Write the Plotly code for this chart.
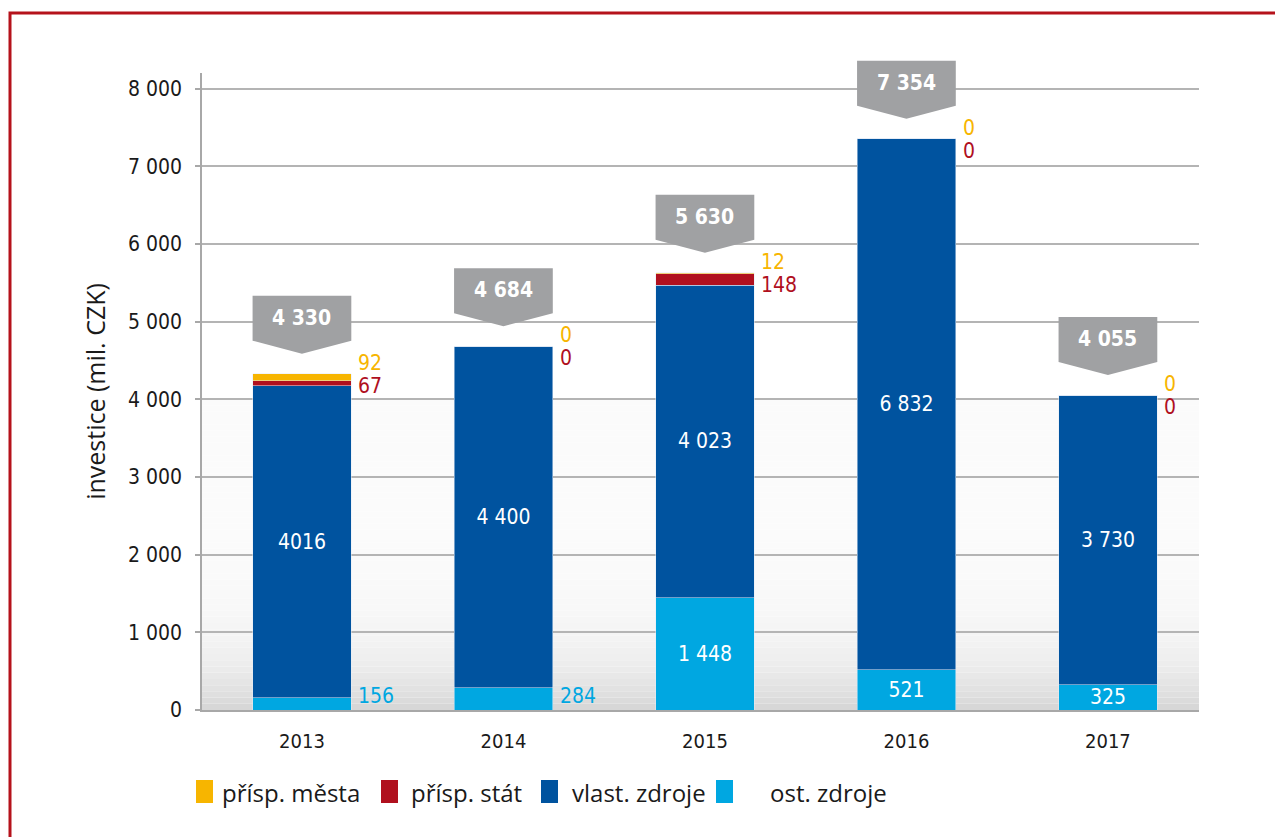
import plotly.graph_objects as go

years = ["2013", "2014", "2015", "2016", "2017"]
ost_zdroje = [156, 284, 1448, 521, 325]
vlast_zdroje = [4016, 4400, 4023, 6832, 3730]
prisp_stat = [67, 0, 148, 0, 0]
prisp_mesta = [92, 0, 12, 0, 0]
totals = [4330, 4684, 5630, 7354, 4055]
total_labels = ["4 330", "4 684", "5 630", "7 354", "4 055"]
vlast_labels = ["4016", "4 400", "4 023", "6 832", "3 730"]
ost_labels = ["156", "284", "1 448", "521", "325"]
ost_outside = [True, True, False, False, False]
y_ticks = [0, 1000, 2000, 3000, 4000, 5000, 6000, 7000, 8000]
series_names = ["přísp. města", "přísp. stát", "vlast. zdroje", "ost. zdroje"]

C_MESTA = "#F7B500"
C_STAT = "#B0101E"
C_VLAST = "#00539F"
C_OST = "#00A7E1"
C_GRAY = "#A0A1A3"

OFF = 8  # page body margin
PL, PR, PT, PB = 202, 1199, 73, 710  # plot area in page pixels
W, H = 1283 - OFF, 837 - OFF
ML, MT = PL - OFF, PT - OFF
MR = W - (PR - OFF)
MB = H - (PB - OFF)
PH = PB - PT
PW = PR - PL
YMAX = 8200
U = YMAX / PH  # data units per pixel

NARROW = "Liberation Sans Narrow, DejaVu Sans Condensed, Roboto, sans-serif"
REG = "Open Sans, Noto Sans, sans-serif"

x = list(range(len(years)))
BW = 0.49

fig = go.Figure()
fig.add_trace(go.Bar(
    x=x, y=ost_zdroje, name=series_names[3], marker_color=C_OST, width=BW,
    text=[("" if o else t) for t, o in zip(ost_labels, ost_outside)],
    textposition="inside", insidetextanchor="middle", textangle=0,
    constraintext="none",
    textfont=dict(color="white", size=21, family=NARROW)))
fig.add_trace(go.Bar(
    x=x, y=vlast_zdroje, name=series_names[2], marker_color=C_VLAST, width=BW,
    text=vlast_labels, textposition="inside", insidetextanchor="middle",
    textangle=0, constraintext="none",
    textfont=dict(color="white", size=21, family=NARROW)))
fig.add_trace(go.Bar(x=x, y=prisp_stat, name=series_names[1],
                     marker_color=C_STAT, width=BW))
fig.add_trace(go.Bar(x=x, y=prisp_mesta, name=series_names[0],
                     marker_color=C_MESTA, width=BW))

shapes = []
# background gradient in lower part
N = 50
for k in range(N):
    v0 = 4000 * k / N
    v1 = 4000 * (k + 1) / N
    t = 1 - (v0 + v1) / 2 / 4000
    c = int(round(251 - 38 * t ** 6))
    shapes.append(dict(type="rect", xref="paper", yref="y", x0=0, x1=1,
                       y0=v0, y1=v1, fillcolor=f"rgb({c},{c},{c})",
                       line_width=0, layer="below"))

annotations = []
for i in x:
    top = totals[i]
    x0, x1 = i - BW / 2, i + BW / 2
    # paper-y coordinates so the callout is not clipped at the plot top
    yp = (top + 20 * U) / YMAX
    ys = (top + 33 * U) / YMAX
    yt = (top + 78 * U) / YMAX
    path = (f"M {x0},{yt} L {x1},{yt} L {x1},{ys} L {i},{yp} "
            f"L {x0},{ys} Z")
    shapes.append(dict(type="path", path=path, xref="x", yref="paper",
                       fillcolor=C_GRAY, line_width=0, layer="above"))
    annotations.append(dict(x=i, y=top, yshift=56, yref="y", xref="x",
                            text=f"<b>{total_labels[i]}</b>", showarrow=False,
                            font=dict(color="white", size=21, family=NARROW)))
    annotations.append(dict(x=x1, y=top, yshift=11, xshift=5, xanchor="left",
                            text=str(prisp_mesta[i]), showarrow=False,
                            font=dict(color=C_MESTA, size=21, family=NARROW)))
    annotations.append(dict(x=x1, y=top, yshift=-12, xshift=5, xanchor="left",
                            text=str(prisp_stat[i]), showarrow=False,
                            font=dict(color=C_STAT, size=21, family=NARROW)))
    if ost_outside[i]:
        annotations.append(dict(x=x1, y=0, yshift=14, xshift=5, xanchor="left",
                                text=ost_labels[i], showarrow=False,
                                font=dict(color=C_OST, size=21, family=NARROW)))


def px_x(p):
    return (p - PL) / PW


def px_y(p):
    return (PB - p) / PH


# red frame
shapes.append(dict(type="rect", xref="paper", yref="paper",
                   x0=px_x(10), x1=px_x(1320), y0=px_y(880), y1=px_y(13),
                   line=dict(color="#B5121B", width=3), fillcolor="rgba(0,0,0,0)"))

# manual legend
leg = [(196, C_MESTA, series_names[0], 220),
       (381, C_STAT, series_names[1], 409),
       (541, C_VLAST, series_names[2], 570),
       (716, C_OST, series_names[3], 768)]
for sx, col, name, tx in leg:
    shapes.append(dict(type="rect", xref="paper", yref="paper",
                       x0=px_x(sx), x1=px_x(sx + 17), y0=px_y(803), y1=px_y(780),
                       fillcolor=col, line_width=0))
    annotations.append(dict(xref="paper", yref="paper", x=px_x(tx), y=px_y(792),
                            xanchor="left", yanchor="middle", text=name,
                            showarrow=False,
                            font=dict(color="#1a1a1a", size=24, family=REG)))

fig.update_layout(
    width=W, height=H,
    margin=dict(l=ML, r=MR, t=MT, b=MB),
    barmode="stack", showlegend=False,
    plot_bgcolor="white", paper_bgcolor="white",
    separators=", ",
    shapes=shapes, annotations=annotations,
    uniformtext=dict(minsize=21, mode="show"),
    font=dict(family=NARROW, color="#1a1a1a"),
)
fig.update_xaxes(range=[-0.496, 4.452], tickvals=x, ticktext=years,
                 showgrid=False, showline=True, linecolor="#A8A8A8", linewidth=1.5,
                 ticks="", tickfont=dict(size=20, family=NARROW, color="#1a1a1a"),
                 ticklabelstandoff=12, zeroline=False)
fig.update_yaxes(range=[0, YMAX], tickvals=y_ticks, tickformat=",d",
                 showgrid=True, gridcolor="#B4B4B4", gridwidth=1.5,
                 showline=True, linecolor="#A8A8A8", linewidth=1.5,
                 ticks="outside", ticklen=5, tickcolor="#A8A8A8", tickwidth=1.5,
                 ticklabelstandoff=9,
                 tickfont=dict(size=21, family=NARROW, color="#1a1a1a"),
                 zeroline=False,
                 title=dict(text="investice (mil. CZK)", standoff=15,
                            font=dict(size=25, family=REG, color="#1a1a1a")))

fig.write_html("out.html")
